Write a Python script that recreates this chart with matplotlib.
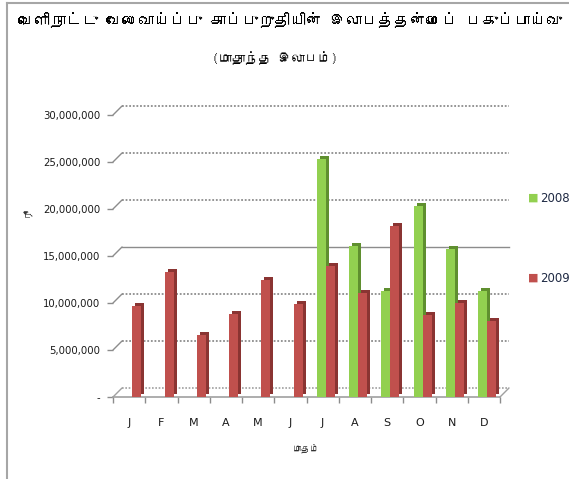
import matplotlib
matplotlib.use("Agg")
import matplotlib.pyplot as plt
import matplotlib.transforms as mtransforms
import matplotlib.font_manager as fm
from matplotlib.ft2font import FT2Font
from matplotlib.lines import Line2D
import numpy as np

# ---- data ----
months = ["J", "F", "M", "A", "M", "J", "J", "A", "S", "O", "N", "D"]
series_names = ["2008", "2009"]
values_2008 = [0, 0, 0, 0, 0, 0, 25300000, 16100000, 11300000, 20300000, 15700000, 11300000]
values_2009 = [9700000, 13300000, 6600000, 8800000, 12500000, 9900000, 13900000, 11100000, 18200000, 8700000, 10000000, 8100000]
yticks = [0, 5000000, 10000000, 15000000, 20000000, 25000000, 30000000]
ytick_labels = ["-", "5,000,000", "10,000,000", "15,000,000", "20,000,000", "25,000,000", "30,000,000"]
title = "வெளிநாட்டு வேலைவாய்ப்பு காப்புறுதியின் இலாபத்தன்மைப் பகுப்பாய்வு"
subtitle = "(மாதாந்த இலாபம்)"
xlabel = "மாதம்"
ylabel = "ரூ"

# ---- font with Tamil glyphs if any ----
tamil_family = None
for f in fm.fontManager.ttflist:
    try:
        if 0x0BB5 in FT2Font(f.fname).get_charmap():
            tamil_family = f.name
            break
    except Exception:
        pass
fams = ([tamil_family] if tamil_family else []) + ["DejaVu Sans"]
plt.rcParams["font.family"] = fams

W, H = 569, 479
fig = plt.figure(figsize=(W / 100, H / 100), dpi=100)
ax = fig.add_axes([113 / W, (H - 397) / H, (500 - 113) / W, (397 - 115) / H])

green_front, green_side = "#92D050", "#5F8F2F"
red_front, red_side = "#C0504D", "#8A3432"

x = np.arange(len(months))
bw = 0.28
shift = mtransforms.ScaledTranslation(3 / 100, 3 / 100, fig.dpi_scale_trans)
back = mtransforms.ScaledTranslation(9 / 100, 9 / 100, fig.dpi_scale_trans)
blend = mtransforms.blended_transform_factory(ax.transAxes, ax.transData)

# back-wall gridlines
for v in yticks[1:]:
    ls = "-" if v == 15000000 else (0, (1, 1))
    ax.plot([0, 1], [v, v], transform=blend + back,
            color="#8C8C8C", lw=1.3 if v != 15000000 else 1.0, ls=ls, clip_on=False, zorder=1)
    ax.annotate("", xy=(0, v), xycoords=blend,
                xytext=(6.5, 6.5), textcoords="offset points",
                arrowprops=dict(arrowstyle="-", color="#8C8C8C", lw=1.0, shrinkA=0, shrinkB=0))
# floor back line and edges
ax.plot([0, 1], [0, 0], transform=blend + back,
        color="#A0A0A0", lw=1.2, ls=(0, (1, 1)), clip_on=False, zorder=1)
for xa in (0, 1):
    ax.annotate("", xy=(xa, 0), xycoords=blend,
                xytext=(6.5, 6.5), textcoords="offset points",
                arrowprops=dict(arrowstyle="-", color="#A0A0A0", lw=1.0, shrinkA=0, shrinkB=0))

# bars with 3D-ish depth
xg = x - 0.04
xr = x + 0.24
ax.bar(xg, values_2008, bw, color=green_side, transform=ax.transData + shift, zorder=2)
ax.bar(xg, values_2008, bw, color=green_front, zorder=3, label=series_names[0])
ax.bar(xr, values_2009, bw, color=red_side, transform=ax.transData + shift, zorder=4)
ax.bar(xr, values_2009, bw, color=red_front, zorder=5, label=series_names[1])

ax.set_xlim(-0.5, len(months) - 0.5)
ax.set_ylim(0, 30000000)
ax.set_yticks(yticks)
ax.set_yticklabels(ytick_labels, fontsize=7.3, color="#1A1A1A", family="DejaVu Sans")
ax.set_xticks(x)
ax.set_xticklabels(months, fontsize=8, color="#1A1A1A", family="DejaVu Sans")
ax.set_xticks(np.arange(-0.5, len(months)), minor=True)
ax.tick_params(axis="x", which="major", length=0, pad=15)
ax.tick_params(axis="x", which="minor", length=4, color="#8C8C8C", width=1)
ax.tick_params(axis="y", length=4, color="#8C8C8C", width=1, pad=5)
for s in ["top", "right", "left"]:
    ax.spines[s].set_visible(False)
ax.spines["bottom"].set_color("#A0A0A0")
ax.spines["bottom"].set_linewidth(1.2)
ax.patch.set_visible(False)

ax.set_xlabel(xlabel, fontsize=6.5, style="italic", color="#333333", labelpad=11)
fig.text(27 / W, 1 - 212 / H, ylabel, fontsize=7, rotation=90, ha="center", va="center", color="#333333")

fig.text(290 / W, 1 - 20 / H, title, fontsize=11.5, fontweight="bold", ha="center", va="center", color="black")
fig.text(275 / W, 1 - 58 / H, subtitle, fontsize=9.5, ha="center", va="center", color="black")

# legend
fig.text(533 / W, 1 - 198 / H, "■", fontsize=8, color=green_front, ha="center", va="center", family="DejaVu Sans")
fig.text(540 / W, 1 - 198 / H, series_names[0], fontsize=8.5, color="#1F2A44", ha="left", va="center", family="DejaVu Sans")
fig.text(533 / W, 1 - 278 / H, "■", fontsize=8, color=red_front, ha="center", va="center", family="DejaVu Sans")
fig.text(540 / W, 1 - 278 / H, series_names[1], fontsize=8.5, color="#1F2A44", ha="left", va="center", family="DejaVu Sans")

# frame border (left and top)
fig.add_artist(Line2D([7 / W, 7 / W], [0, 1 - 3 / H], color="#A6A6A6", lw=1.5, transform=fig.transFigure))
fig.add_artist(Line2D([7 / W, 1], [1 - 3 / H, 1 - 3 / H], color="#A6A6A6", lw=1.5, transform=fig.transFigure))

fig.savefig("out.png", dpi=100)
